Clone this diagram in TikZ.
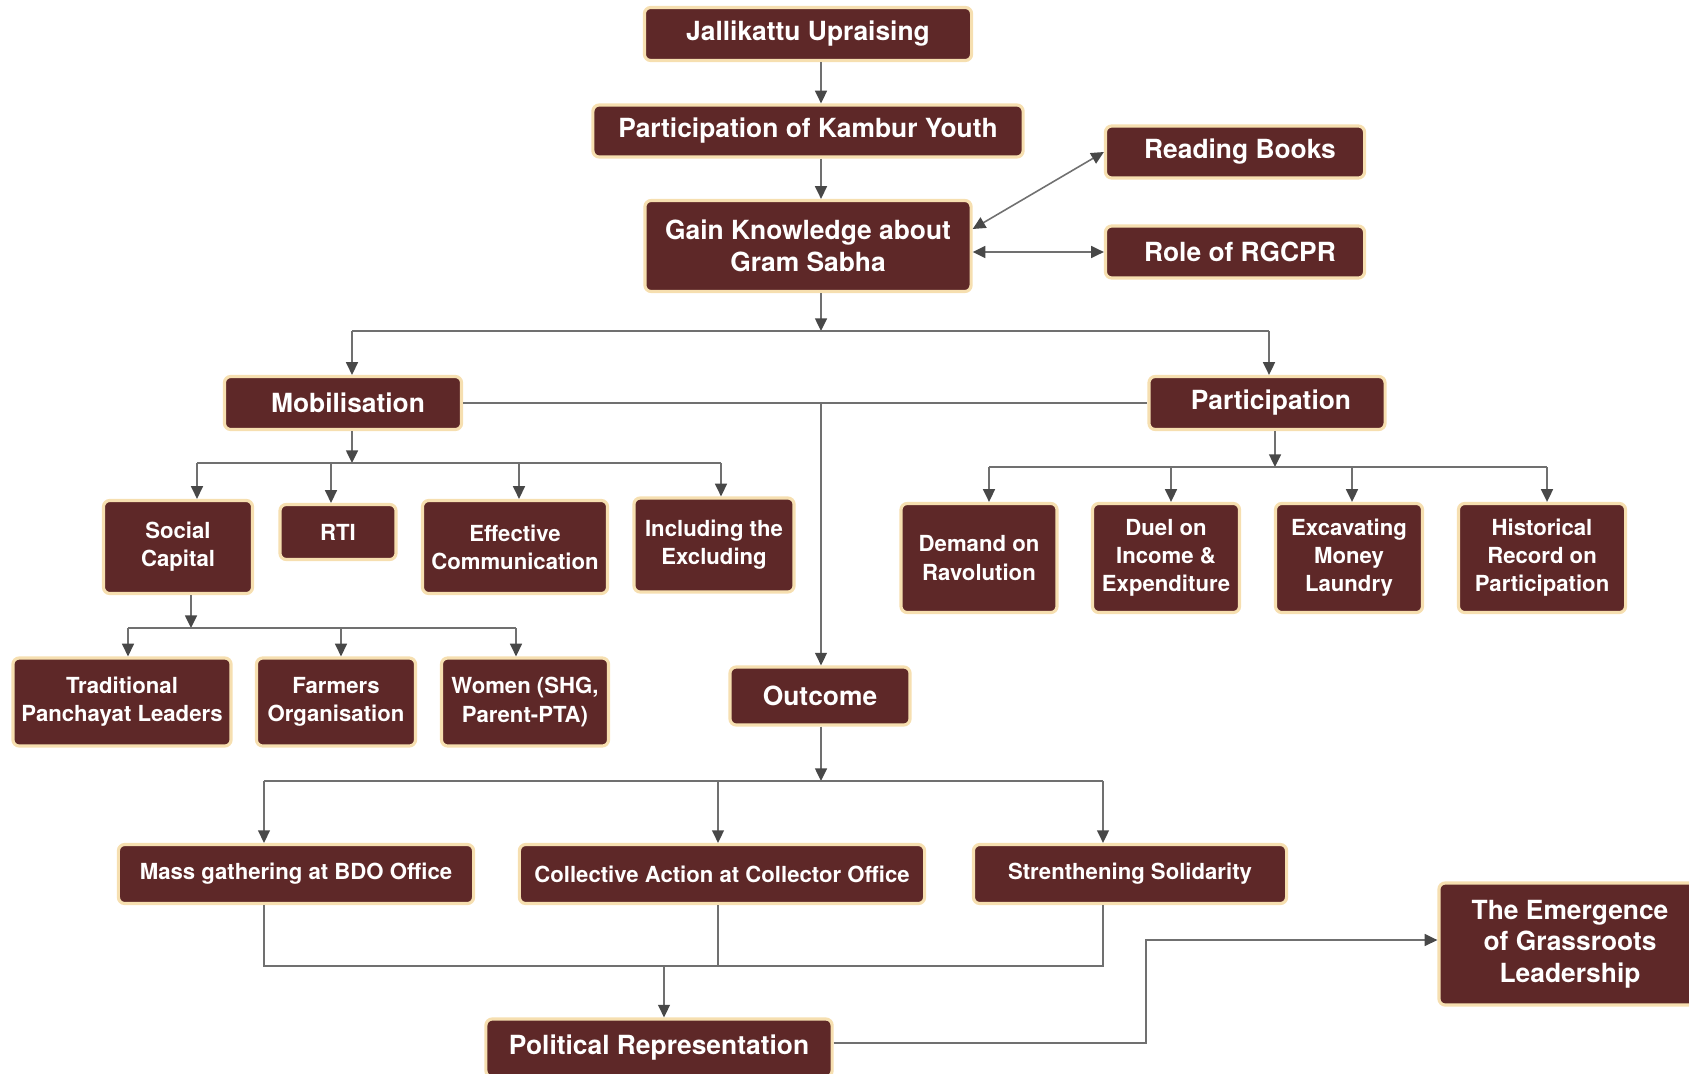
\documentclass[tikz,border=0pt]{standalone}
\usepackage{fontspec}
\setmainfont{TeX Gyre Heros}
\usetikzlibrary{arrows.meta}
\definecolor{maroon}{RGB}{94,40,40}
\definecolor{beige}{RGB}{246,223,176}
\definecolor{linegray}{RGB}{112,112,112}
\definecolor{tipgray}{RGB}{72,72,72}
\begin{document}
\begin{tikzpicture}[x=0.01cm,y=-0.01cm,
	box/.style={draw=beige,line width=0.9pt,fill=maroon,rounded corners=1.8pt,text=white,align=center,inner sep=0pt,font=\bfseries\fontsize{7.5}{9}\selectfont},
	small/.style={box,font=\bfseries\fontsize{6.3}{8}\selectfont},
	ln/.style={draw=linegray,line width=0.45pt},
	arr/.style={ln,-{Triangle[length=3.6pt,width=3.4pt,color=tipgray]}},
	both/.style={ln,{Triangle[length=3.6pt,width=3.4pt,color=tipgray]}-{Triangle[length=3.6pt,width=3.4pt,color=tipgray]}}]
	\useasboundingbox (0,0) rectangle (1689,1073);
		\node[box,minimum width=3.27cm,minimum height=0.53cm] (jal) at (808,34) {Jallikattu Upraising};
		\node[box,minimum width=4.30cm,minimum height=0.52cm] (kam) at (808,131) {Participation of Kambur Youth};
		\node[box,minimum width=3.26cm,minimum height=0.91cm] (gain) at (808,246) {Gain Knowledge about\\Gram Sabha};
		\node[box,minimum width=2.59cm,minimum height=0.52cm] (read) at (1235,152) {\hspace{0.1cm}Reading Books};
		\node[box,minimum width=2.59cm,minimum height=0.52cm] (role) at (1235,252) {\hspace{0.1cm}Role of RGCPR};
		\node[box,minimum width=2.37cm,minimum height=0.53cm] (mob) at (343,403) {\hspace{0.1cm}Mobilisation};
		\node[box,minimum width=2.36cm,minimum height=0.53cm] (part) at (1267,403) {\hspace{0.08cm}Participation};
		\node[small,minimum width=1.49cm,minimum height=0.93cm] (soc) at (178,547) {Social\\Capital};
		\node[small,minimum width=1.16cm,minimum height=0.55cm] (rti) at (338,532) {RTI};
		\node[small,minimum width=1.85cm,minimum height=0.93cm] (eff) at (515,547) {Effective\\Communication};
		\node[small,minimum width=1.60cm,minimum height=0.94cm] (inc) at (714,545) {Including the\\Excluding};
		\node[small,minimum width=1.56cm,minimum height=1.09cm] (dem) at (979,558) {Demand on\\Ravolution};
		\node[small,minimum width=1.47cm,minimum height=1.09cm] (duel) at (1166,558) {Duel on\\Income \&\\Expenditure};
		\node[small,minimum width=1.47cm,minimum height=1.09cm] (exc) at (1349,558) {Excavating\\Money\\Laundry};
		\node[small,minimum width=1.67cm,minimum height=1.09cm] (hist) at (1542,558) {Historical\\Record on\\Participation};
		\node[small,minimum width=2.18cm,minimum height=0.88cm] (trad) at (122,702) {Traditional\\Panchayat Leaders};
		\node[small,minimum width=1.59cm,minimum height=0.88cm] (farm) at (336,702) {Farmers\\Organisation};
		\node[small,minimum width=1.67cm,minimum height=0.88cm] (wom) at (525,702) {Women (SHG,\\Parent-PTA)};
		\node[box,minimum width=1.80cm,minimum height=0.58cm] (out) at (820,696) {Outcome};
		\node[small,minimum width=3.55cm,minimum height=0.59cm] (mass) at (296,874) {Mass gathering at BDO Office};
		\node[small,minimum width=4.05cm,minimum height=0.59cm] (coll) at (722,874) {Collective Action at Collector Office};
		\node[small,minimum width=3.13cm,minimum height=0.59cm] (sol) at (1130,874) {Strenthening Solidarity};
		\node[box,minimum width=3.46cm,minimum height=0.58cm] (pol) at (659,1048) {Political Representation};
		\node[box,minimum width=2.62cm,minimum height=1.22cm] (emer) at (1570,944) {The Emergence\\of Grassroots\\Leadership};
		\coordinate (sp) at (821,331);
		\coordinate (bl) at (352,331);
		\coordinate (br) at (1269,331);
		\draw[arr] (jal.south -| sp) -- (kam.north -| sp);
		\draw[arr] (kam.south -| sp) -- (gain.north -| sp);
		\draw[both] ([yshift=0.17cm]gain.east) -- (read.west);
		\draw[both] (gain.east |- role.west) -- (role.west);
		\draw[arr] (gain.south -| sp) -- (sp);
		\draw[ln] (bl) -- (br);
		\draw[arr] (bl) -- (bl |- mob.north);
		\draw[arr] (br) -- (br |- part.north);
		\draw[ln] (mob.east) -- (part.west);
		\draw[arr] (mob.east -| sp) -- (out.north -| sp);
		\coordinate (mb) at (352,463);
		\draw[arr] (mob.south -| mb) -- (mb);
		\draw[ln] (197,463) -- (721,463);
		\draw[arr] (197,463) -- (soc.north -| 197,0);
		\draw[arr] (331,463) -- (rti.north -| 331,0);
		\draw[arr] (519,463) -- (eff.north -| 519,0);
		\draw[arr] (721,463) -- (inc.north -| 721,0);
		\coordinate (pb) at (1275,467);
		\draw[arr] (part.south -| pb) -- (pb);
		\draw[ln] (989,467) -- (1547,467);
		\draw[arr] (989,467) -- (dem.north -| 989,0);
		\draw[arr] (1171,467) -- (duel.north -| 1171,0);
		\draw[arr] (1352,467) -- (exc.north -| 1352,0);
		\draw[arr] (1547,467) -- (hist.north -| 1547,0);
		\coordinate (sb) at (191,628);
		\draw[arr] (soc.south -| sb) -- (sb);
		\draw[ln] (128,628) -- (516,628);
		\draw[arr] (128,628) -- (trad.north -| 128,0);
		\draw[arr] (341,628) -- (farm.north -| 341,0);
		\draw[arr] (516,628) -- (wom.north -| 516,0);
		\coordinate (ob) at (821,781);
		\draw[arr] (out.south -| ob) -- (ob);
		\draw[ln] (264,781) -- (1103,781);
		\draw[arr] (264,781) -- (mass.north -| 264,0);
		\draw[arr] (718,781) -- (coll.north -| 718,0);
		\draw[arr] (1103,781) -- (sol.north -| 1103,0);
		\draw[ln] (mass.south -| 264,0) -- (264,966) -- (1103,966) -- (sol.south -| 1103,0);
		\draw[ln] (coll.south -| 718,0) -- (718,966);
		\draw[arr] (664,966) -- (pol.north -| 664,0);
		\coordinate (em) at (1146,940);
		\draw[arr] ([yshift=0.05cm]pol.east) -- ([yshift=0.05cm]pol.east -| em) -- (em) -- (em -| emer.west);
\end{tikzpicture}
\end{document}
